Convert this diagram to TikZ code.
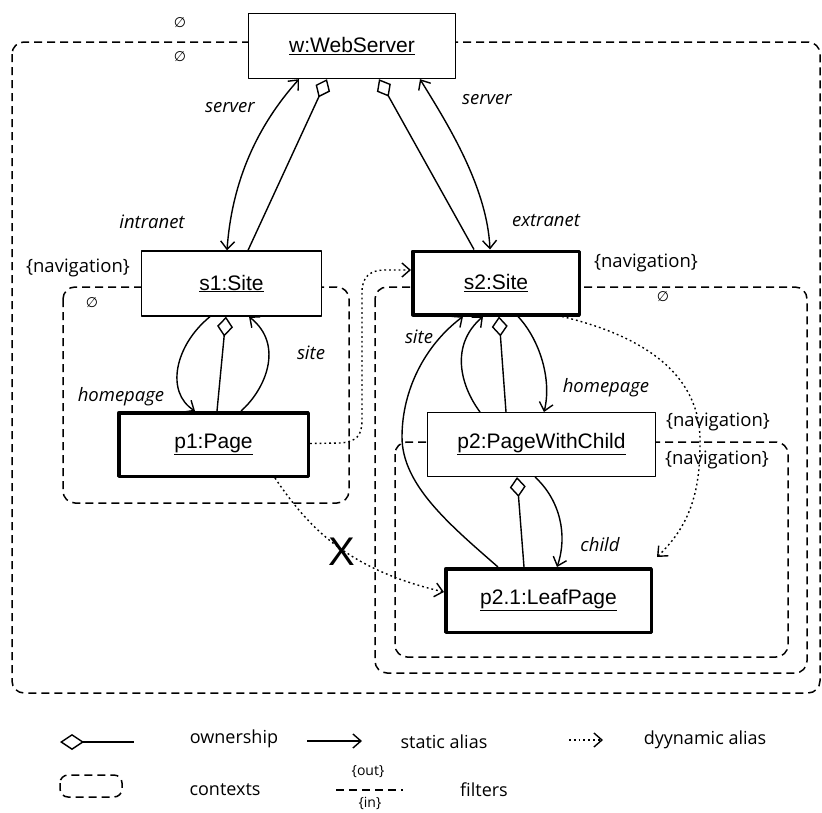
\documentclass[tikz,border=0pt]{standalone}
\usepackage{fontspec}
\setmainfont{Liberation Sans}
\newfontfamily\lblfont{Open Sans}
\newfontfamily\symfont{DejaVu Sans}
\usetikzlibrary{arrows.meta}

\tikzset{
  objbox/.style={draw, fill=white, line width=1.3pt, inner sep=0pt,
    minimum height=65pt, font=\fontsize{21}{24}\selectfont},
  heavy/.style={line width=3.5pt, minimum height=63.5pt},
  ctx/.style={line width=1.5pt, dash pattern=on 8pt off 5pt, rounded corners=12pt},
  stat/.style={line width=1.4pt, >={Straight Barb[length=8pt,width=14pt]}},
  own/.style={line width=1.4pt, arrows={Diamond[open,length=20pt,width=16pt]-}},
  dyn/.style={line width=1.4pt, dash pattern=on 1.8pt off 3pt,
    arrows={-Straight Barb[length=8pt,width=14pt]}},
  lbl/.style={inner sep=0pt, font=\lblfont\fontsize{18.5}{21}\selectfont},
  ital/.style={inner sep=0pt, font=\lblfont\itshape\fontsize{18.5}{21}\selectfont},
  emptyset/.style={inner sep=0pt, font=\symfont\fontsize{14}{16}\selectfont},
  lgd/.style={inner sep=0pt, font=\lblfont\fontsize{18}{21}\selectfont},
}

\begin{document}
\begin{tikzpicture}[x=1pt, y=-1pt, line join=round]
\useasboundingbox (0,0) rectangle (822,812);

% contexts
\draw[ctx] (12,42) rectangle (820,693);
\draw[ctx] (63,287) rectangle (349,503);
\draw[ctx] (375,287) rectangle (807,673);
\draw[ctx] (395,442) rectangle (788,657);

% objects
\node[objbox, minimum width=206.7pt] (w) at (352,46) {\underline{w:WebServer}};
\node[objbox, minimum width=179.7pt] (s1) at (231.5,283.5) {\underline{s1:Site}};
\node[objbox, heavy, minimum width=166.5pt] (s2) at (496,283) {\underline{s2:Site}};
\node[objbox, heavy, minimum width=189.5pt] (p1) at (213.5,444.5) {\underline{p1:Page}};
\node[objbox, minimum width=227.7pt, minimum height=63.7pt] (p2) at (541.5,444.5) {\underline{p2:PageWithChild}};
\node[objbox, heavy, minimum width=205.5pt] (leaf) at (548.5,600.5) {\underline{p2.1:LeafPage}};

% web server <-> sites
\draw[stat,<->] ([xshift=-4.5pt]s1.north) .. controls (232,180) and (258,125) .. ([xshift=-53pt]w.south);
\draw[own] ([xshift=-25pt]w.south) -- ([xshift=16.5pt]s1.north);
\draw[own] ([xshift=27pt]w.south) -- ([xshift=-22pt]s2.north);
\draw[stat,<->] ([xshift=68pt]w.south) .. controls (445,120) and (487,185) .. ([xshift=-6pt]s2.north);

% site s1 and its page
\draw[stat,->] ([xshift=-21.5pt]s1.south) .. controls (175,345) and (165,392) .. ([xshift=-18.5pt]p1.north);
\draw[own] ([xshift=-5.5pt]s1.south) -- ([xshift=3.5pt]p1.north);
\draw[stat,->] ([xshift=27.5pt]p1.north) .. controls (265,390) and (285,345) .. ([xshift=17.5pt]s1.south);

% site s2 and its pages
\draw[stat,->] ([xshift=22pt]s2.south) .. controls (540,340) and (552,380) .. ([xshift=2.5pt]p2.north);
\draw[own] ([xshift=3pt]s2.south) -- ([xshift=-35.5pt]p2.north);
\draw[stat,->] ([xshift=-61.5pt]p2.north) .. controls (460,385) and (450,345) .. ([xshift=-13pt]s2.south);
\draw[stat,->] ([xshift=-50.5pt]leaf.north) .. controls (450,525) and (402,485) .. (402,437)
  .. controls (402,390) and (425,345) .. ([xshift=-33pt]s2.south);
\draw[own] ([xshift=-24.5pt]p2.south) -- ([xshift=-24.5pt]leaf.north);
\draw[stat,->] ([xshift=-6.5pt]p2.south) .. controls (560,500) and (568,535) .. ([xshift=8.5pt]leaf.north);

% dynamic aliases
\draw[dyn] ([yshift=1pt]p1.east) -- (340,443) .. controls (357,442) and (362,435) .. (362,420)
  -- (362,292) .. controls (362,277) and (370,270) .. (385,270) -- ([yshift=13pt]s2.west);
\draw[dyn] ([xshift=61.5pt]p1.south) .. controls (310,530) and (350,570) .. ([yshift=8.5pt]leaf.west);
\draw[dyn] ([xshift=-19pt]s2.south east) .. controls (660,340) and (702,385) .. (700,445)
  .. controls (700,500) and (685,530) .. ([xshift=4pt,yshift=10pt]leaf.north east);

% role labels
\node[ital] (lserver1) at (230,108) {server};
\node[ital] (lintra) at (152,222) {intranet};
\node[ital] (lserver2) at (487,100) {server};
\node[ital] (lextra) at (546,220) {extranet};
\node[ital] (lhome1) at (121,397) {homepage};
\node[ital] (lsite1) at (311,353) {site};
\node[ital] (lsite2) at (419,337) {site};
\node[ital] (lhome2) at (606,388) {homepage};
\node[ital] (lchild) at (600,545) {child};
\node[font=\fontsize{40}{44}\selectfont, inner sep=0pt] (xmark) at (342,552) {X};

% filters
\node[emptyset] (e1) at (180,23) {∅};
\node[emptyset] (e2) at (180,57) {∅};
\node[lbl] (n1) at (78,268) {\{navigation\}};
\node[emptyset] (e3) at (92,303) {∅};
\node[lbl] (n2) at (646,263) {\{navigation\}};
\node[emptyset] (e4) at (663,297) {∅};
\node[lbl] (n3) at (718,422) {\{navigation\}};
\node[lbl] (n4) at (717,460) {\{navigation\}};

% legend
\coordinate (oA) at (60,742); \coordinate (oB) at (134,742);
\draw[own, arrows={Diamond[open,length=24pt,width=16pt]-}] (oA) -- (oB);
\node[lgd] (t1) at (234,739) {ownership};
\coordinate (sA) at (307,741); \coordinate (sB) at (362,741);
\draw[stat,->] (sA) -- (sB);
\node[lgd] (t2) at (444,742) {static alias};
\coordinate (dA) at (569,740); \coordinate (dB) at (603,740);
\draw[dyn] (dA) -- (dB);
\node[lgd] (t3) at (705,740) {dyynamic alias};
\draw[ctx, rounded corners=8pt] (60,775) rectangle (122,797);
\node[lgd] (t4) at (225,790) {contexts};
\coordinate (fA) at (336,790); \coordinate (fB) at (403,790);
\draw[line width=1.5pt, dash pattern=on 8pt off 5pt] (fA) -- (fB);
\node[lbl, font=\lblfont\fontsize{14}{16}\selectfont] (fo) at (368,772) {\{out\}};
\node[lbl, font=\lblfont\fontsize{14}{16}\selectfont] (fi) at (370,803) {\{in\}};
\node[lgd] (t5) at (484,790) {filters};
\end{tikzpicture}
\end{document}
